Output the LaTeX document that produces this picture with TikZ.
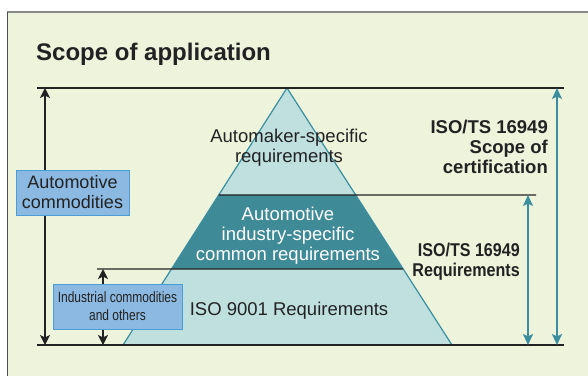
\documentclass[tikz,border=0pt]{standalone}
\usepackage{fontspec}
\setmainfont{Liberation Sans}
\newfontfamily\narrowfont[FakeStretch=0.8]{Liberation Sans}
\newfontfamily\narrowbold[FakeStretch=0.87]{Liberation Sans Bold}
\usetikzlibrary{arrows.meta,calc}
\definecolor{bgc}{HTML}{EEF3DC}
\definecolor{lightteal}{HTML}{C0E0E0}
\definecolor{darkteal}{HTML}{3F8A97}
\definecolor{tealline}{HTML}{3A8EA0}
\definecolor{boxfill}{HTML}{8CB9E1}
\definecolor{boxline}{HTML}{4A9DD5}
\definecolor{ink}{HTML}{222222}
\definecolor{framegray}{HTML}{8A8A8A}
\tikzset{
  txt/.style={inner sep=0pt, text=ink, align=center, font=\fontsize{18.5}{20}\selectfont},
  boldlbl/.style={inner sep=0pt, text=ink, align=right, font=\bfseries\fontsize{18.5}{20}\selectfont},
  bluebox/.style={draw=boxline, fill=boxfill, line width=1pt, inner sep=0pt, text=ink, align=center},
  rule/.style={draw=ink, line width=1.2pt},
  blackarrow/.style={draw=ink, line width=1.2pt, -{Stealth[length=10pt,width=10pt,inset=2.5pt]}},
  tealarrow/.style={draw=tealline, line width=2pt, {Stealth[length=11pt,width=10pt,inset=2.5pt]}-{Stealth[length=11pt,width=10pt,inset=2.5pt]}},
}
\begin{document}
\begin{tikzpicture}[x=1pt,y=-1pt]
\useasboundingbox (0,0) rectangle (588,376);
\fill[white] (0,0) rectangle (588,376);
\fill[bgc] (7,12) rectangle (588,376);
\draw[framegray, line width=2pt] (7,12) -- (588,12);
\draw[ink!80, line width=0.8pt] (7,12) -- (7,376);

\node[anchor=base west, inner sep=0pt, text=ink, font=\bfseries\fontsize{24}{28}\selectfont] (title) at (36,60) {Scope of application};

% pyramid
\coordinate (A) at (287,88);
\coordinate (BL) at (123,345);
\coordinate (BR) at (452,345);
\coordinate (UL) at ($(A)!0.4163!(BL)$);
\coordinate (UR) at ($(A)!0.4163!(BR)$);
\coordinate (LL) at ($(A)!0.7043!(BL)$);
\coordinate (LR) at ($(A)!0.7043!(BR)$);
\fill[lightteal] (A) -- (BL) -- (BR) -- cycle;
\fill[darkteal] (UL) -- (UR) -- (LR) -- (LL) -- cycle;
\draw[tealline, line width=1.2pt] (BL) -- (A) -- (BR);

% rules
\coordinate (topL) at (37,88);
\coordinate (topR) at (564,88);
\coordinate (botL) at (37,345);
\coordinate (botR) at (564,345);
\coordinate (midR) at (536,195);
\coordinate (lowL) at (97,269);
\draw[rule] (topL) -- (topR);
\draw[rule] (botL) -- (botR);
\draw[rule] (UL) -- (midR);
\draw[rule] (lowL) -- (LR);

% pyramid texts
\node[txt] (automaker) at (289,148) {Automaker-specific\\requirements};
\node[txt, text=white] (industry) at (288,235.5) {Automotive\\industry-specific\\common requirements};
\node[txt, anchor=base] (iso9001) at (289,315) {ISO 9001 Requirements};

% left boxes
\node[bluebox, minimum width=113pt, minimum height=45pt, font=\fontsize{18}{20}\selectfont] (autoc) at (72.5,192.5) {Automotive\\commodities};
\node[bluebox, minimum width=129pt, minimum height=45pt, font=\narrowfont\fontsize{15}{18}\selectfont] (indc) at (117.5,306.5) {Industrial commodities\\and others};

\coordinate (la1) at (45,88);
\coordinate (la2) at (45,345);
\draw[blackarrow] (autoc.north -| la1) -- (la1);
\draw[blackarrow] (autoc.south -| la2) -- (la2);
\coordinate (ia1) at (103,269);
\coordinate (ia2) at (103,345);
\draw[blackarrow] (indc.north -| ia1) -- (ia1);
\draw[blackarrow] (indc.south -| ia2) -- (ia2);

% right arrows
\coordinate (ra1) at (557,88);
\coordinate (ra2) at (557,345);
\coordinate (rb1) at (528,195);
\coordinate (rb2) at (528,345);
\draw[tealarrow] (ra1) -- (ra2);
\draw[tealarrow] (rb1) -- (rb2);

\node[boldlbl, anchor=east] (scope) at (548,146.5) {ISO/TS 16949\\Scope of\\certification};
\node[boldlbl, anchor=east, font=\narrowbold\fontsize{18.5}{20}\selectfont] (req) at (520,262) {ISO/TS 16949\\Requirements};
\end{tikzpicture}
\end{document}
